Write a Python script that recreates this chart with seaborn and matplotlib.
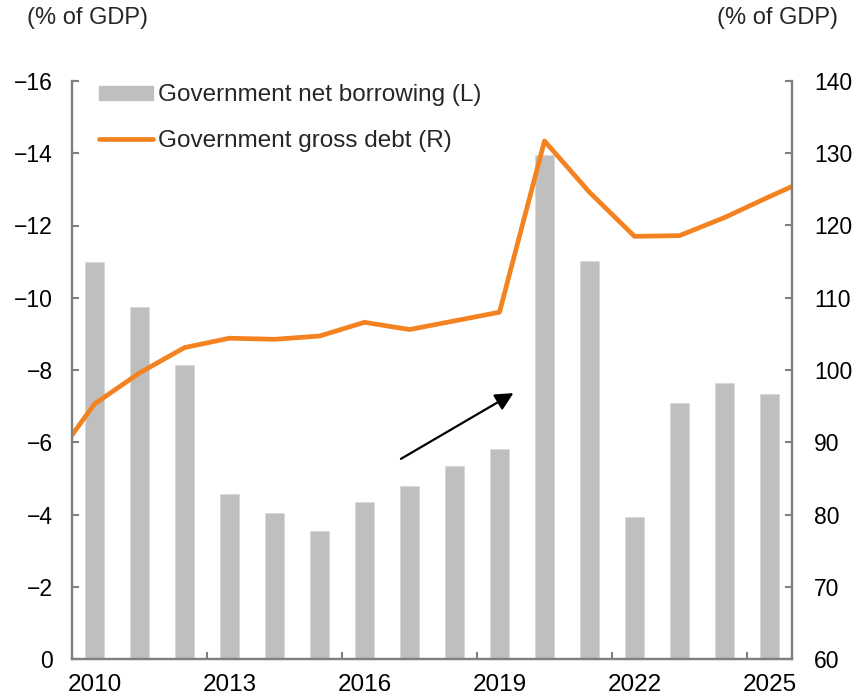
import numpy as np
import pandas as pd
import matplotlib
matplotlib.use("Agg")
import matplotlib.pyplot as plt
from matplotlib.patches import Patch
from matplotlib.lines import Line2D
import seaborn as sns

# Government net borrowing (% of GDP, left axis)
years = [2010, 2011, 2012, 2013, 2014, 2015, 2016, 2017,
         2018, 2019, 2020, 2021, 2022, 2023, 2024, 2025]
net_borrowing = [-11.0, -9.74, -8.14, -4.57, -4.03, -3.54, -4.35, -4.8,
                 -5.33, -5.81, -13.95, -11.03, -3.92, -7.08, -7.63, -7.33]

# Government gross debt (% of GDP, right axis); the series runs one year
# past each end of the bar range and is clipped at the axes
debt_years = [2009, 2010, 2011, 2012, 2013, 2014, 2015, 2016, 2017,
              2018, 2019, 2020, 2021, 2022, 2023, 2024, 2025, 2026]
gross_debt = [86.7, 95.3, 99.6, 103.1, 104.4, 104.25, 104.7, 106.6, 105.6,
              106.8, 108.0, 131.7, 124.6, 118.5, 118.6, 121.1, 124.0, 126.8]

left_ticks = [0, -2, -4, -6, -8, -10, -12, -14, -16]
right_ticks = [60, 70, 80, 90, 100, 110, 120, 130, 140]
label_years = [2010, 2013, 2016, 2019, 2022, 2025]

BAR = "#bfbfbf"
ORANGE = "#f58220"
SPINE = "#808080"
FS = 16.5
FS_LEG = 17.5
FS_X = 17.5

sns.set_theme(style="white")
plt.rcParams["font.family"] = ["Liberation Sans", "DejaVu Sans"]
plt.rcParams["axes.unicode_minus"] = True

bars_df = pd.DataFrame({"year": [str(y) for y in years], "value": net_borrowing})
debt_df = pd.DataFrame({"pos": [y - years[0] for y in debt_years], "value": gross_debt})

fig = plt.figure(figsize=(8.58, 6.98), dpi=100)
ax = fig.add_axes([72 / 858, 39 / 698, 720 / 858, 578 / 698])

sns.barplot(data=bars_df, x="year", y="value", color=BAR, width=0.44,
            saturation=1, edgecolor="#d9d9d9", linewidth=0.6, ax=ax)
ax.set_ylim(0, -16)
ax.set_xlim(-0.5, len(years) - 0.5)

ax2 = ax.twinx()
sns.lineplot(data=debt_df, x="pos", y="value", color=ORANGE, linewidth=3.4,
             ax=ax2, legend=False)
ax2.set_ylim(60, 140)
ax2.set_xlim(-0.5, len(years) - 0.5)

# Axis styling
for a in (ax, ax2):
    a.set_xlabel("")
    a.set_ylabel("")
    a.spines["top"].set_visible(False)
    for s in ("left", "right", "bottom"):
        a.spines[s].set_color(SPINE)
        a.spines[s].set_linewidth(1.6)

ax.set_yticks(left_ticks)
ax.set_yticklabels([f"{t}".replace("-", "\u2212") for t in left_ticks])
ax.tick_params(axis="y", direction="in", length=5, width=1.5, color=SPINE,
               labelsize=FS, pad=14, labelcolor="black")

ax2.set_yticks(right_ticks)
ax2.tick_params(axis="y", direction="in", length=5, width=1.5, color=SPINE,
                labelsize=FS, pad=16, labelcolor="black")

pos = [years.index(y) for y in label_years]
ax.set_xticks(pos)
ax.set_xticklabels([str(y) for y in label_years])
ax.set_xticks([p - 0.5 for p in pos[1:]], minor=True)
ax.tick_params(axis="x", which="major", length=0, labelsize=FS_X, pad=11,
               labelcolor="black")
ax.tick_params(axis="x", which="minor", direction="in", length=5, width=1.5,
               color=SPINE, bottom=True)
ax2.tick_params(axis="x", which="both", length=0, labelbottom=False)

# Trend arrow
ax.annotate("", xy=(9.31, -7.36), xytext=(6.81, -5.54),
            arrowprops=dict(arrowstyle="-|>,head_length=0.9,head_width=0.45",
                            color="black", lw=1.6, shrinkA=0, shrinkB=0))

# Legend
handles = [Patch(facecolor=BAR, edgecolor=BAR),
           Line2D([0], [0], color=ORANGE, lw=3.4)]
labels = ["Government net borrowing (L)", "Government gross debt (R)"]
ax2.legend(handles, labels, loc="upper left", bbox_to_anchor=(0.038, 0.994),
           frameon=False, fontsize=FS_LEG, handlelength=2.2, handleheight=0.55,
           handletextpad=0.2, labelspacing=0.98, borderaxespad=0, borderpad=0)

# Unit labels
fig.text(27 / 858, 1 - 18 / 698, "(% of GDP)", fontsize=FS + 0.5, ha="left", va="center")
fig.text(838 / 858, 1 - 18 / 698, "(% of GDP)", fontsize=FS + 0.5, ha="right", va="center")

fig.savefig("out.png", dpi=100)
